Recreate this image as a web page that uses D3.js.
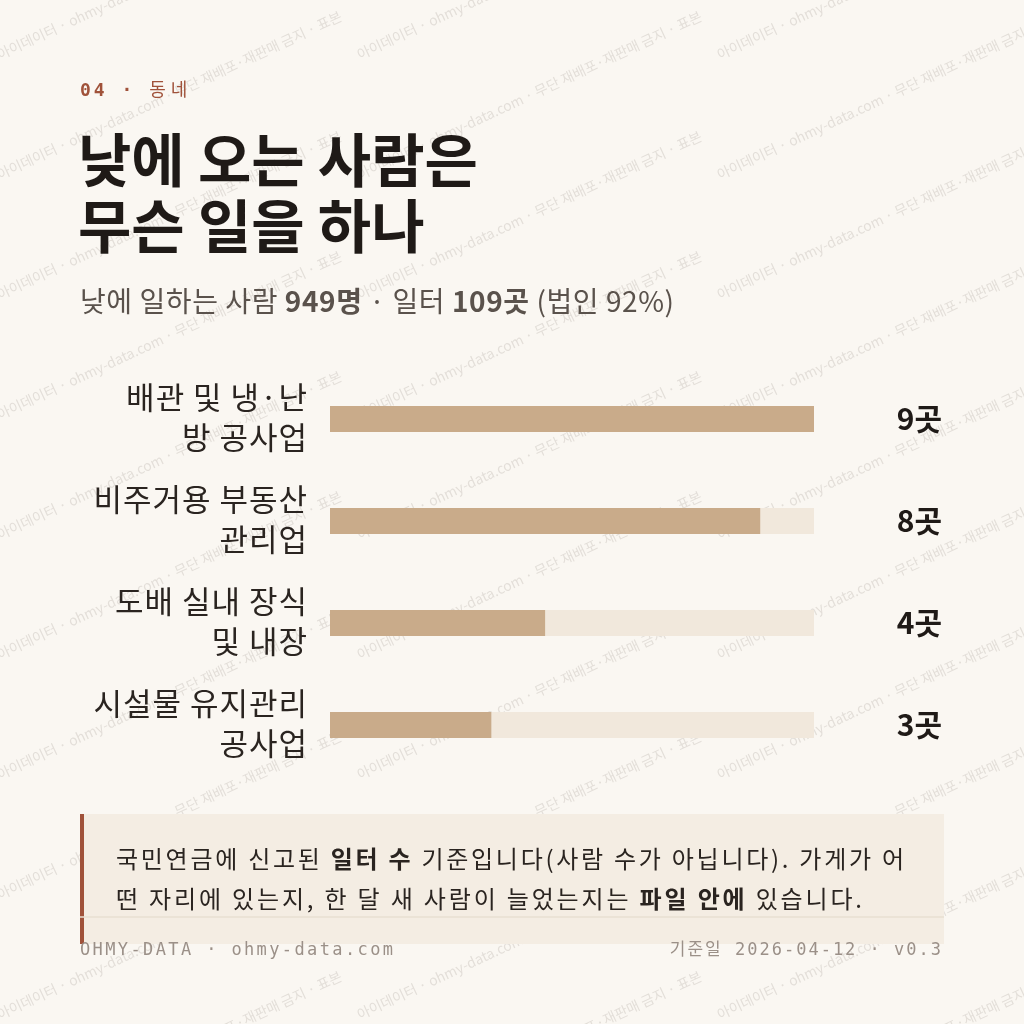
<!DOCTYPE html>
<html><head><meta charset="utf-8">
<script src="https://cdn.jsdelivr.net/npm/d3@7"></script>
<style>body{margin:0;background:#faf7f2}</style></head>
<body><svg id="c" width="1024" height="1024"></svg>
<script>
const labels = [["배관 및 냉·난","방 공사업"],["비주거용 부동산","관리업"],["도배 실내 장식","및 내장"],["시설물 유지관리","공사업"]];
const values = [9, 8, 4, 3];
const valueLabels = ["9곳","8곳","4곳","3곳"];

const svg = d3.select("#c");
const KR = "'Noto Sans CJK KR', 'Noto Sans', sans-serif";
svg.append("rect").attr("width",1024).attr("height",1024).attr("fill","#faf7f2");

// watermark (behind everything)
const wm = svg.append("g").attr("font-family",KR).attr("font-size",14).attr("fill","#8a8078").attr("opacity",0.2);
for(let r=-4;r<12;r++) for(let c=-2;c<4;c++){
  wm.append("text").attr("transform",`translate(${c*360},${r*120+60}) rotate(-25)`)
    .text("아이데이터 · ohmy-data.com · 무단 재배포·재판매 금지 · 표본");
}

// header
svg.append("text").attr("x",80).attr("y",96).attr("font-family",KR).attr("font-size",18).attr("fill","#a0523a")
  .html("<tspan font-family='DejaVu Sans Mono' font-weight='bold' letter-spacing='3'>04 · </tspan><tspan letter-spacing='5'>동네</tspan>");
["낮에 오는 사람은","무슨 일을 하나"].forEach((t,i)=>
  svg.append("text").attr("x",78).attr("y",182+i*66).attr("font-family",KR).attr("font-weight","bold")
    .attr("font-size",58).attr("fill","#1f1a17").text(t));
svg.append("text").attr("x",80).attr("y",312).attr("font-family",KR).attr("font-size",28).attr("fill","#5a524c")
  .attr("textLength",594).attr("lengthAdjust","spacing")
  .html("낮에 일하는 사람 <tspan font-weight='bold'>949명</tspan> · 일터 <tspan font-weight='bold'>109곳</tspan> (법인 92%)");

// bars
const x = d3.scaleLinear().domain([0,9]).range([330,814]);
const y = d3.scaleBand().domain(d3.range(values.length)).range([368,776]).paddingInner(0);
const g = svg.selectAll("g.row").data(values).join("g").attr("class","row");
g.append("rect").attr("x",x(0)).attr("y",(d,i)=>y(i)+y.bandwidth()/2-13).attr("width",x(9)-x(0)).attr("height",26).attr("fill","#f1e8dc");
g.append("rect").attr("x",x(0)).attr("y",(d,i)=>y(i)+y.bandwidth()/2-13).attr("width",d=>x(d)-x(0)).attr("height",26).attr("fill","#c9ab8a");
g.each(function(d,i){
  const cy = y(i)+y.bandwidth()/2;
  labels[i].forEach((t,j)=>d3.select(this).append("text").attr("x",308).attr("y",cy-10+j*40)
    .attr("text-anchor","end").attr("font-family",KR).attr("font-size",31).attr("fill","#2a2420")
    .attr("letter-spacing",1).text(t));
  d3.select(this).append("text").attr("x",942).attr("y",cy+11).attr("text-anchor","end")
    .attr("font-family",KR).attr("font-weight","bold").attr("font-size",30).attr("fill","#1f1a17").text(valueLabels[i]);
});

// note box
svg.append("rect").attr("x",80).attr("y",814).attr("width",864).attr("height",130).attr("fill","#f4ede3");
svg.append("rect").attr("x",80).attr("y",814).attr("width",4).attr("height",130).attr("fill","#a0523a");
const note = svg.append("g").attr("font-family",KR).attr("font-size",24).attr("fill","#2a2420");
note.append("text").attr("x",116).attr("y",868).attr("textLength",788).attr("lengthAdjust","spacing")
  .html("국민연금에 신고된 <tspan font-weight='bold'>일터 수</tspan> 기준입니다(사람 수가 아닙니다). 가게가 어");
note.append("text").attr("x",116).attr("y",908).attr("textLength",746).attr("lengthAdjust","spacing")
  .html("떤 자리에 있는지, 한 달 새 사람이 늘었는지는 <tspan font-weight='bold'>파일 안에</tspan> 있습니다.");
svg.append("line").attr("x1",80).attr("x2",944).attr("y1",917).attr("y2",917).attr("stroke","#e8dfd2").attr("stroke-width",1.5);
svg.append("text").attr("x",80).attr("y",955).attr("font-family","'DejaVu Sans Mono', monospace").attr("font-size",17)
  .attr("fill","#9b9088").attr("textLength",313).attr("lengthAdjust","spacing").text("OHMY-DATA · ohmy-data.com");
svg.append("text").attr("x",943).attr("y",955).attr("text-anchor","end").attr("font-family","'DejaVu Sans Mono', monospace").attr("font-size",17)
  .attr("fill","#9b9088").attr("letter-spacing",2).html("<tspan font-family=\"'Noto Sans CJK KR'\">기준일</tspan> 2026-04-12 · v0.3");
</script></body></html>
